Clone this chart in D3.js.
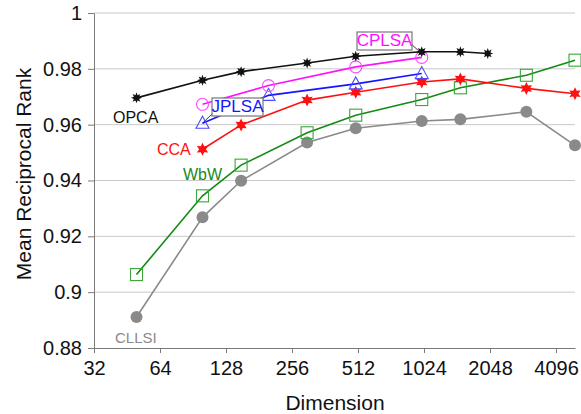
<!DOCTYPE html>
<html>
<head>
<meta charset="utf-8">
<script src="https://cdn.jsdelivr.net/npm/d3@7"></script>
<style>
  body { margin: 0; background: #fff; }
  svg { display: block; font-family: "Liberation Sans", Arial, sans-serif; }
</style>
</head>
<body>
<div id="chart"></div>
<script>
// values
const xTicks = [32, 64, 128, 256, 512, 1024, 2048, 4096];
const yTicks = [0.88, 0.9, 0.92, 0.94, 0.96, 0.98, 1];

const opcaDims = [50, 100, 150, 300, 500, 1000, 1500, 2000];
const opcaMrr = [0.9696, 0.9759, 0.979, 0.9821, 0.9845, 0.9861, 0.9861, 0.9855];

const cplsaDims = [100, 200, 500, 1000];
const cplsaMrr = [0.9673, 0.974, 0.9807, 0.9841];

const jplsaDims = [100, 200, 500, 1000];
const jplsaMrr = [0.9605, 0.9705, 0.9746, 0.9783];

const ccaDims = [100, 150, 300, 500, 1000, 1500, 3000, 5000];
const ccaMrr = [0.9512, 0.9599, 0.9688, 0.9716, 0.9753, 0.9764, 0.973, 0.9711];

const wbwDims = [50, 100, 150, 300, 500, 1000, 1500, 3000, 5000];
const wbwMrr = [0.9063, 0.9345, 0.9455, 0.9571, 0.9634, 0.969, 0.9732, 0.9777, 0.9831];

const cllsiDims = [50, 100, 150, 300, 500, 1000, 1500, 3000, 5000];
const cllsiMrr = [0.8911, 0.9268, 0.9399, 0.9536, 0.9587, 0.9613, 0.9619, 0.9646, 0.9526];

const W = 581, H = 414;
const margin = { top: 13, right: 6, left: 94, bottom: 66 };
const width = W - margin.left - margin.right;
const height = H - margin.top - margin.bottom;

const xScale = d3.scaleLog().base(2).domain([32, 5000]).range([0, width]);
const yScale = d3.scaleLinear().domain([0.88, 1]).range([height, 0]);

const svg = d3.select("#chart").append("svg")
  .attr("width", W).attr("height", H)
  .append("g")
  .attr("transform", `translate(${margin.left},${margin.top})`);

// gridlines
svg.append("g")
  .selectAll("line")
  .data(yTicks.slice(1))
  .join("line")
  .attr("x1", 0).attr("x2", width)
  .attr("y1", d => yScale(d)).attr("y2", d => yScale(d))
  .attr("stroke", "#c8c8c8").attr("stroke-width", 1);

// axes
const xAxis = svg.append("g")
  .attr("transform", `translate(0,${height})`)
  .call(d3.axisBottom(xScale).tickValues(xTicks).tickFormat(d3.format("d")).tickSizeInner(5).tickSizeOuter(0).tickPadding(5));
const yAxis = svg.append("g")
  .call(d3.axisLeft(yScale).tickValues(yTicks).tickFormat(d => d3.format("")(+d.toFixed(2))).tickSizeInner(6).tickSizeOuter(0).tickPadding(6));

[xAxis, yAxis].forEach(a => {
  a.select(".domain").attr("stroke", "#7a7a7a");
  a.selectAll(".tick line").attr("stroke", "#7a7a7a");
  a.selectAll(".tick text").attr("fill", "#111").style("font-size", "20px")
    .style("font-family", "'Liberation Sans', Arial, sans-serif");
});
xAxis.selectAll(".tick text").attr("dy", "0.85em");

svg.append("text")
  .attr("x", 241).attr("y", height + 62)
  .attr("text-anchor", "middle")
  .style("font-size", "21px").attr("fill", "#111")
  .text("Dimension");

svg.append("text")
  .attr("transform", `translate(${-63},${174 - margin.top}) rotate(-90)`)
  .attr("text-anchor", "middle")
  .style("font-size", "21px").attr("fill", "#111")
  .text("Mean Reciprocal Rank");

// star shape helper for the burst markers
function starPath(points, rOut, rIn) {
  const pts = [];
  for (let i = 0; i < points * 2; i++) {
    const r = i % 2 === 0 ? rOut : rIn;
    const a = Math.PI * i / points - Math.PI / 2;
    pts.push([r * Math.cos(a), r * Math.sin(a)]);
  }
  return "M" + pts.map(p => p.join(",")).join("L") + "Z";
}

const line = d3.line().x(d => xScale(d[0])).y(d => yScale(d[1]));

function drawSeries(dims, vals, color, marker) {
  const pts = dims.map((d, i) => [d, vals[i]]);
  svg.append("path")
    .datum(pts)
    .attr("d", line)
    .attr("fill", "none")
    .attr("stroke", color)
    .attr("stroke-width", 1.6);
  const g = svg.append("g");
  pts.forEach(p => {
    const cx = xScale(p[0]), cy = yScale(p[1]);
    marker(g, cx, cy);
  });
}

drawSeries(cllsiDims, cllsiMrr, "#8a8a8a", (g, x, y) =>
  g.append("circle").attr("cx", x).attr("cy", y).attr("r", 6).attr("fill", "#8a8a8a"));

drawSeries(wbwDims, wbwMrr, "#138a13", (g, x, y) =>
  g.append("rect").attr("x", x - 6).attr("y", y - 6).attr("width", 12).attr("height", 12)
    .attr("fill", "none").attr("stroke", "#3aa53a").attr("stroke-width", 1.1));

drawSeries(ccaDims, ccaMrr, "#ff1010", (g, x, y) =>
  g.append("path").attr("transform", `translate(${x},${y})`)
    .attr("d", starPath(6, 6.5, 3.4)).attr("fill", "#ff1010"));

drawSeries(jplsaDims, jplsaMrr, "#1515ff", (g, x, y) =>
  g.append("path").attr("transform", `translate(${x},${y})`)
    .attr("d", "M0,-7L6.5,5L-6.5,5Z")
    .attr("fill", "none").attr("stroke", "#4a4aff").attr("stroke-width", 1.1));

drawSeries(cplsaDims, cplsaMrr, "#ff10ff", (g, x, y) =>
  g.append("circle").attr("cx", x).attr("cy", y).attr("r", 6)
    .attr("fill", "none").attr("stroke", "#ff4aff").attr("stroke-width", 1.1));

drawSeries(opcaDims, opcaMrr, "#111", (g, x, y) =>
  g.append("path").attr("transform", `translate(${x},${y})`)
    .attr("d", starPath(8, 5.5, 2.8)).attr("fill", "#111"));

// series labels
const labels = [
  { text: "OPCA", x: 113, y: 123, color: "#111", size: 16 },
  { text: "CCA", x: 157, y: 155, color: "#ff1010", size: 16 },
  { text: "WbW", x: 183, y: 180, color: "#1a8a1a", size: 16 },
  { text: "CLLSI", x: 115, y: 343, color: "#8a8a8a", size: 15 }
];
svg.append("g").selectAll("text")
  .data(labels)
  .join("text")
  .attr("x", d => d.x - margin.left).attr("y", d => d.y - margin.top)
  .attr("fill", d => d.color)
  .style("font-size", d => d.size + "px")
  .text(d => d.text);

// boxed callouts with leader lines
function callout(text, color, box, target) {
  const g = svg.append("g");
  g.append("line")
    .attr("x1", box.lx - margin.left).attr("y1", box.ly - margin.top)
    .attr("x2", xScale(target[0])).attr("y2", yScale(target[1]))
    .attr("stroke", "#222").attr("stroke-width", 0.9);
  g.append("rect")
    .attr("x", box.x - margin.left).attr("y", box.y - margin.top)
    .attr("width", box.w).attr("height", box.h)
    .attr("fill", "#fff").attr("stroke", "#777").attr("stroke-width", 1.2);
  g.append("text")
    .attr("x", box.x - margin.left + box.w / 2).attr("y", box.y - margin.top + box.h - 4)
    .attr("text-anchor", "middle")
    .attr("fill", color).style("font-size", "17px")
    .text(text);
}

callout("JPLSA", "#1515ff", { x: 212, y: 98, w: 51, h: 18, lx: 213, ly: 113 }, [jplsaDims[0], jplsaMrr[0]]);
callout("CPLSA", "#ff10ff", { x: 357, y: 32, w: 55, h: 18, lx: 411, ly: 44 }, [cplsaDims[3], cplsaMrr[3] + 0.0014]);
</script>
</body>
</html>
